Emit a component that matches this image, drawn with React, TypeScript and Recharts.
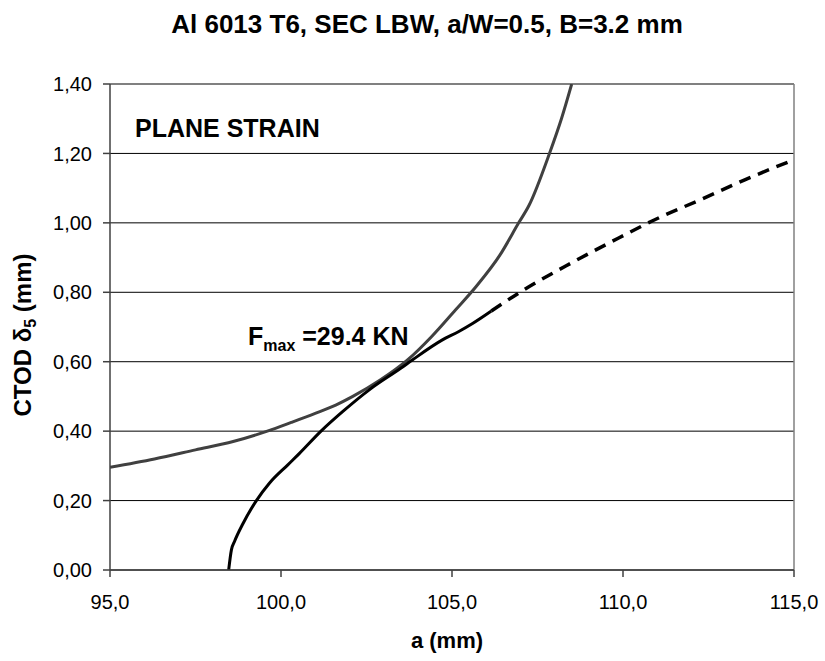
import React from 'react';
import {
  LineChart,
  Line,
  XAxis,
  YAxis,
  CartesianGrid,
  ReferenceLine,
} from 'recharts';

// crack driving force curve (grey)
const drivingA = [95.0, 96.3, 97.5, 98.6, 99.6, 100.3, 101.0, 101.6, 102.1, 102.9, 103.7, 104.4, 105.1, 105.7, 106.4, 106.95, 107.25, 107.85, 108.2, 108.5];
const drivingCtod = [0.296, 0.32, 0.346, 0.37, 0.40, 0.425, 0.451, 0.475, 0.50, 0.547, 0.605, 0.672, 0.749, 0.816, 0.907, 1.0, 1.05, 1.2, 1.3, 1.4];

// measured R-curve (black, solid)
const measuredA = [98.47, 98.55, 98.64, 98.89, 99.28, 99.66, 100.2, 100.54, 101.17, 101.8, 102.58, 103.5, 103.84, 104.72, 105.2, 105.6, 106.15];
const measuredCtod = [0.0, 0.058, 0.082, 0.134, 0.2, 0.25, 0.303, 0.336, 0.4, 0.456, 0.519, 0.581, 0.605, 0.663, 0.687, 0.71, 0.746];

// extrapolated R-curve (black, dashed)
const extrapA = [106.15, 107.1, 108.5, 109.67, 111.08, 112.25, 113.56, 115.0];
const extrapCtod = [0.746, 0.807, 0.885, 0.946, 1.016, 1.066, 1.124, 1.182];

const xTicks = [95, 100, 105, 110, 115];
const yTicks = [0, 0.2, 0.4, 0.6, 0.8, 1.0, 1.2, 1.4];

const toRows = (xs: number[], ys: number[]) => xs.map((a, i) => ({ a, v: ys[i] }));

const drivingData = toRows(drivingA, drivingCtod);
const measuredData = toRows(measuredA, measuredCtod);
const extrapData = toRows(extrapA, extrapCtod);

const font = '"Liberation Sans", Arial, sans-serif';
const comma = (v: number, d: number) => v.toFixed(d).replace('.', ',');

export default function App() {
  return (
    <div style={{ position: 'absolute', left: 0, top: 0, width: 825, height: 661, background: '#fff' }}>
      <LineChart
        width={825}
        height={661}
        margin={{ top: 84, right: 31, bottom: 51, left: 0 }}
        style={{ fontFamily: font }}
      >
        <CartesianGrid horizontal vertical={false} stroke="#000" strokeWidth={1} />
        <XAxis
          type="number"
          dataKey="a"
          domain={[95, 115]}
          ticks={xTicks}
          allowDataOverflow
          height={40}
          tickFormatter={(v: number) => comma(v, 1)}
          tick={{ fill: '#000', fontSize: 20, fontFamily: font }}
          tickSize={7}
          tickMargin={18}
          stroke="#404040"
          strokeWidth={1.5}
        />
        <YAxis
          type="number"
          domain={[0, 1.4]}
          ticks={yTicks}
          allowDataOverflow
          width={110}
          tickFormatter={(v: number) => comma(v, 2)}
          tick={{ fill: '#000', fontSize: 20, fontFamily: font }}
          tickSize={7}
          tickMargin={11}
          stroke="#404040"
          strokeWidth={1.5}
        />
        <ReferenceLine y={1.4} stroke="#808080" strokeWidth={1.5} />
        <ReferenceLine x={115} stroke="#808080" strokeWidth={1.5} />
        <Line
          data={drivingData}
          dataKey="v"
          type="monotone"
          stroke="#404040"
          strokeWidth={3}
          dot={false}
          isAnimationActive={false}
        />
        <Line
          data={measuredData}
          dataKey="v"
          type="monotone"
          stroke="#000"
          strokeWidth={3}
          dot={false}
          isAnimationActive={false}
        />
        <Line
          data={extrapData}
          dataKey="v"
          type="monotone"
          stroke="#000"
          strokeWidth={3.5}
          strokeDasharray="12 8"
          dot={false}
          isAnimationActive={false}
        />
        <text x={427} y={33} textAnchor="middle" fontSize={26} fontWeight="bold" fontFamily={font} fill="#000">
          Al 6013 T6, SEC LBW, a/W=0.5, B=3.2 mm
        </text>
        <text x={135} y={137} fontSize={25} fontWeight="bold" fontFamily={font} fill="#000">
          PLANE STRAIN
        </text>
        <text x={248} y={345} fontSize={25} fontWeight="bold" fontFamily={font} fill="#000">
          F<tspan fontSize={16} dy={6}>max</tspan>
          <tspan dy={-6}> =29.4 KN</tspan>
        </text>
        <text x={447} y={648} textAnchor="middle" fontSize={22} fontWeight="bold" fontFamily={font} fill="#000">
          a (mm)
        </text>
        <text
          x={0}
          y={0}
          transform="translate(31, 335) rotate(-90)"
          textAnchor="middle"
          fontSize={24}
          fontWeight="bold"
          fontFamily={font}
          fill="#000"
        >
          CTOD δ<tspan fontSize={16} dy={5}>5</tspan>
          <tspan dy={-5}>  (mm)</tspan>
        </text>
      </LineChart>
    </div>
  );
}
